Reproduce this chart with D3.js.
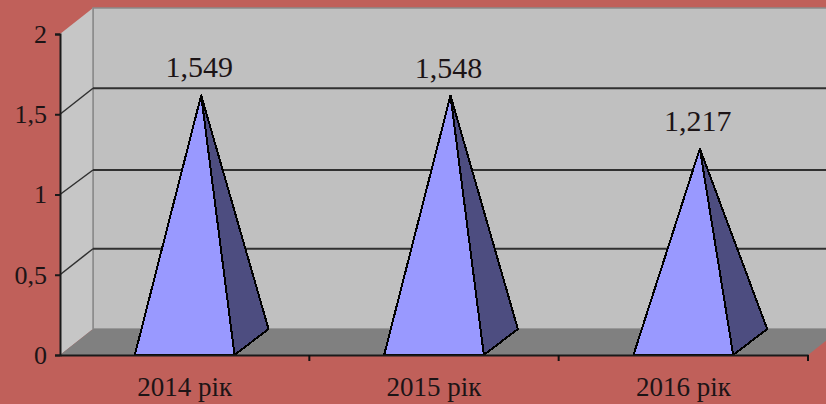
<!DOCTYPE html>
<html><head><meta charset="utf-8">
<script src="https://cdn.jsdelivr.net/npm/d3@7"></script>
<style>html,body{margin:0;padding:0;background:#c0605a}svg{display:block}text{font-family:"Liberation Serif",serif;fill:#1c1416}</style>
</head><body><svg id="c" width="826" height="404"></svg>
<script>
const categories=["2014 рік","2015 рік","2016 рік"];
const values=[1.549,1.548,1.217];
const valueLabels=["1,549","1,548","1,217"];
const yTicks=[0,0.5,1,1.5,2];

const W=826,H=404,dx=33,dy=-26;
const svg=d3.select("#c");
const x=d3.scaleBand().domain(categories).range([60,808]).paddingInner(0.6).paddingOuter(0.3);
const xOuter=d3.scaleBand().domain(categories).range([60,808]);
const y=d3.scaleLinear().domain([0,2]).range([355,34]);
const poly=p=>{const g=d3.path();p.forEach((q,i)=>i?g.lineTo(q[0],q[1]):g.moveTo(q[0],q[1]));g.closePath();return g.toString();};

const y0=y(0),y2=y(2),x0=60,x1=808;
svg.append("rect").attr("width",W).attr("height",H).attr("fill","#c0605a");
svg.append("path").attr("d",poly([[x0+dx,y2+dy],[W+40,y2+dy],[W+40,y0+dy],[x0+dx,y0+dy]])).attr("fill","#c0c0c0").attr("stroke","#8a8a8a").attr("stroke-width",1.5);
svg.append("path").attr("d",poly([[x0,y0],[x0+dx,y0+dy],[x0+dx,y2+dy],[x0,y2]])).attr("fill","#c6c6c6");
svg.append("line").attr("x1",x0+dx).attr("x2",x0+dx).attr("y1",y2+dy).attr("y2",y0+dy).attr("stroke","#8a8a8a").attr("stroke-width",1.5);
svg.append("path").attr("d",poly([[x0,y0],[x0+dx,y0+dy],[x1+dx,y0+dy],[x1,y0]])).attr("fill","#808080");

yTicks.filter(t=>t>0&&t<2).forEach(t=>{
  const gy=t===1?y(t)+dy+1.5:y(t)+dy;
  svg.append("line").attr("x1",x0+dx).attr("x2",W).attr("y1",gy).attr("y2",gy).attr("stroke","#303030").attr("stroke-width",2);
  svg.append("line").attr("x1",x0).attr("x2",x0+dx).attr("y1",y(t)).attr("y2",gy).attr("stroke","#303030").attr("stroke-width",1.5);
});

categories.forEach((c,i)=>{
  const a=x(c),b=a+x.bandwidth();
  const apex=[(a+b+dx)/2,y(values[i])+dy/2+2];
  const g=svg.append("g").attr("stroke","#000").attr("stroke-width",2).attr("stroke-linejoin","round").attr("shape-rendering","crispEdges");
  g.append("path").attr("d",poly([[b,y0],[b+dx+1,y0+dy],apex])).attr("fill","#4d4d80");
  g.append("path").attr("d",poly([[a,y0],[b,y0],apex])).attr("fill","#9999ff");
  svg.append("text").attr("x",apex[0]-2).attr("y",apex[1]-18).attr("text-anchor","middle").attr("font-size",30).text(valueLabels[i]);
});

const yAxis=d3.axisLeft(y).tickValues(yTicks).tickSize(5).tickPadding(8).tickFormat(d=>String(d).replace(".",","));
const ga=svg.append("g").attr("transform",`translate(${x0},0)`).call(yAxis);
ga.selectAll("text").attr("font-size",26).attr("font-family","Liberation Serif").attr("fill","#1c1416");
const xAxis=d3.axisBottom(xOuter).tickSize(0).tickPadding(22);
const gx=svg.append("g").attr("transform",`translate(0,${y0})`).call(xAxis);
gx.selectAll("text").attr("font-size",27).attr("font-family","Liberation Serif").attr("fill","#1c1416");
categories.forEach(c=>{gx.append("line").attr("x1",xOuter(c)+xOuter.bandwidth()).attr("x2",xOuter(c)+xOuter.bandwidth()).attr("y1",0).attr("y2",6).attr("stroke","#111").attr("stroke-width",2);});
svg.selectAll(".domain").attr("stroke","#1a1a1a").attr("stroke-width",2);
svg.selectAll(".tick line").attr("stroke","#1a1a1a").attr("stroke-width",2);
</script></body></html>
